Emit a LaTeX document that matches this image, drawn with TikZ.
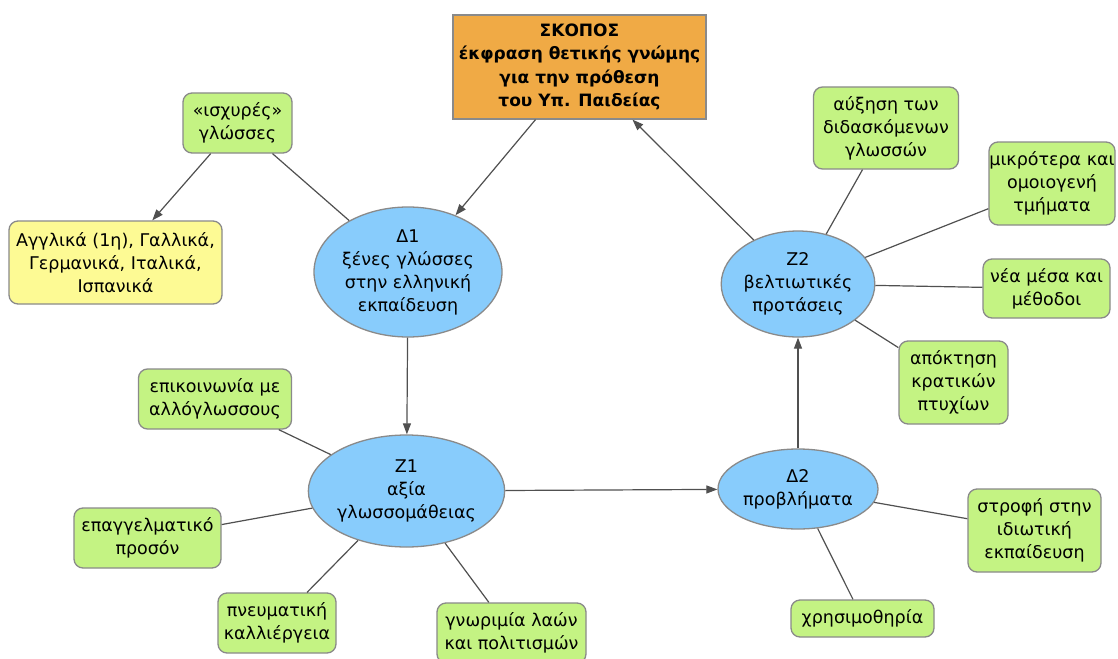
\documentclass[tikz,border=0pt]{standalone}
\usepackage{fontspec}
\setmainfont{DejaVu Sans}
\usetikzlibrary{arrows.meta,shapes.geometric}
\definecolor{orangefill}{HTML}{F0AA45}
\definecolor{leafgreen}{HTML}{C4F383}
\definecolor{ellblue}{HTML}{88CCFC}
\definecolor{yellowfill}{HTML}{FDFA94}
\definecolor{bordergray}{HTML}{8A8A8A}
\definecolor{linegray}{HTML}{505050}
\begin{document}
\begin{tikzpicture}[x=1pt,y=-1pt,
  base/.style={draw=bordergray, line width=1.3pt, align=center, inner sep=0pt,
    font=\fontsize{17.5}{23}\selectfont},
  box/.style 2 args={base, rounded corners=9pt, minimum width=#1, minimum height=#2},
  leaf/.style 2 args={box={#1}{#2}, fill=leafgreen},
  ell/.style 2 args={base, ellipse, fill=ellblue, minimum width=#1, minimum height=#2},
  link/.style={draw=linegray, line width=1.2pt},
  arr/.style={link, -{Triangle[length=11pt,width=8pt]}, color=linegray}]
\useasboundingbox (0,0) rectangle (1118,658);
\fill[white] (0,0) rectangle (1118,658);

\node[base, fill=orangefill, minimum width=253, minimum height=104, font=\fontsize{17}{23.5}\selectfont\bfseries] (skopos) at (579.5,67)
  {ΣΚΟΠΟΣ\\έκφραση θετικής γνώμης\\για την πρόθεση\\του Υπ. Παιδείας};

\node[leaf={109}{60}] (strong) at (237.5,123) {«ισχυρές»\\γλώσσες};
\node[box={213}{83}, fill=yellowfill] (langs) at (115.5,262.5) {Αγγλικά (1η), Γαλλικά,\\Γερμανικά, Ιταλικά,\\Ισπανικά};
\node[ell={188}{130}] (d1) at (408,272) {Δ1\\ξένες γλώσσες\\στην ελληνική\\εκπαίδευση};

\node[ell={195}{112}] (z1) at (406.5,491) {Ζ1\\αξία\\γλωσσομάθειας};
\node[leaf={153}{60}] (epik) at (215,399) {επικοινωνία με\\αλλόγλωσσους};
\node[leaf={147}{60}] (epag) at (147.5,538) {επαγγελματικό\\προσόν};
\node[leaf={118}{60}] (pneum) at (277,623) {πνευματική\\καλλιέργεια};
\node[leaf={149}{60}] (gnor) at (511.5,633) {γνωριμία λαών\\και πολιτισμών};

\node[ell={160}{80}] (d2) at (798,489) {Δ2\\προβλήματα};
\node[leaf={133}{83}] (strofi) at (1034.5,530.5) {στροφή στην\\ιδιωτική\\εκπαίδευση};
\node[leaf={143}{37}] (xrisi) at (862.5,618.5) {χρησιμοθηρία};

\node[ell={152}{106}] (z2) at (798,284) {Ζ2\\βελτιωτικές\\προτάσεις};
\node[leaf={109}{83}] (apokt) at (953.5,382.5) {απόκτηση\\κρατικών\\πτυχίων};
\node[leaf={145}{82}] (auxisi) at (886,128) {αύξηση των\\διδασκόμενων\\γλωσσών};
\node[leaf={126}{83}] (mikr) at (1052,183.5) {μικρότερα και\\ομοιογενή\\τμήματα};
\node[leaf={127}{59}] (nea) at (1046.5,288.5) {νέα μέσα και\\μέθοδοι};

\draw[arr] (skopos) -- (d1);
\draw[arr] (z2) -- (skopos);
\draw[arr] (strong) -- (langs);
\draw[link] (strong) -- (d1);
\draw[arr] (d1) -- (z1);
\draw[arr] (z1) -- (d2);
\draw[arr] (d2) -- (z2);
\draw[link] (epik) -- (z1);
\draw[link] (epag) -- (z1);
\draw[link] (pneum) -- (z1);
\draw[link] (gnor) -- (z1);
\draw[link] (d2) -- (strofi);
\draw[link] (d2) -- (xrisi);
\draw[link] (z2) -- (apokt);
\draw[link] (z2) -- (auxisi);
\draw[link] (z2) -- (mikr);
\draw[link] (z2) -- (nea);
\end{tikzpicture}
\end{document}
